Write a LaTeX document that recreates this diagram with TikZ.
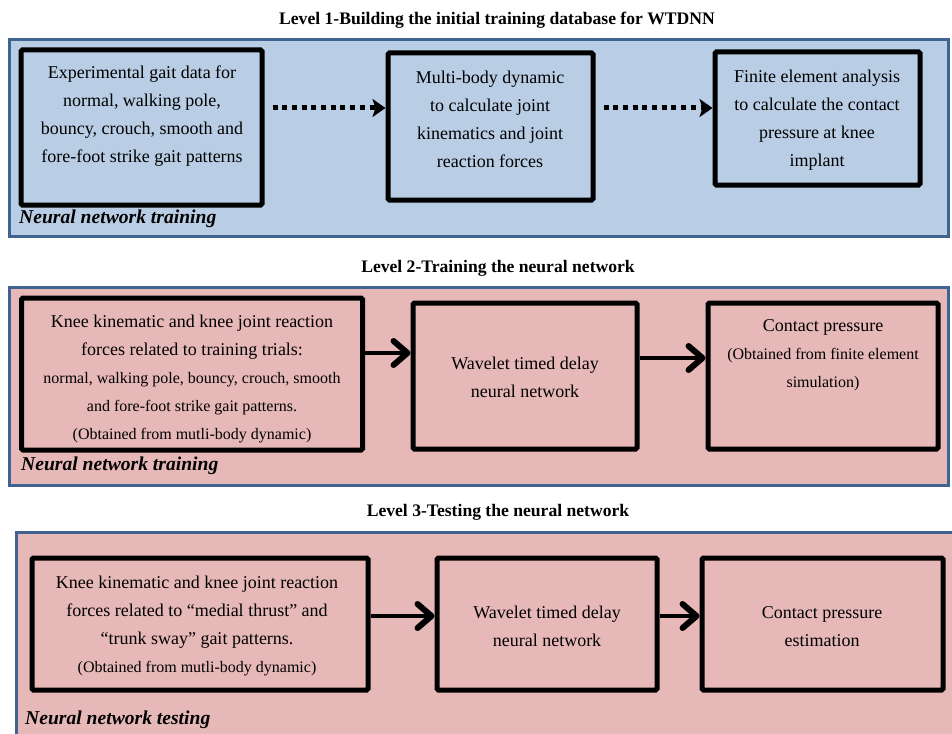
\documentclass[tikz,border=0pt]{standalone}
\usepackage{fontspec}
\setmainfont{Liberation Serif}
\usetikzlibrary{arrows.meta}
\definecolor{panelblue}{HTML}{B9CDE5}
\definecolor{panelpink}{HTML}{E6B8B7}
\definecolor{panelline}{HTML}{3F6491}
\newcommand{\smalltxt}{\fontsize{16}{28}\selectfont}
\tikzset{
  panel/.style={draw=panelline, line width=3pt},
  box/.style={draw=black, line width=5pt, rounded corners=1.5pt},
  txt/.style={align=center, font=\fontsize{18}{28}\selectfont, inner sep=0pt},
  title/.style={font=\fontsize{17.6}{20}\selectfont\bfseries, inner sep=0pt},
  tag/.style={font=\fontsize{19.6}{22}\selectfont\bfseries\itshape, inner sep=0pt, anchor=west},
  dotarrow/.style={line width=5pt, dash pattern=on 5pt off 4.7pt, -{Stealth[length=13pt,width=18pt,inset=3pt]}, shorten <=8pt},
  solidarrow/.style={line width=4.5pt, -{Straight Barb[length=14pt,width=24pt,line width=6pt,round]}}
}
\begin{document}
\begin{tikzpicture}[x=1pt,y=-1pt]
\clip (0,0) rectangle (952,733);
\fill[white] (0,0) rectangle (952,733);

% ---------- Level 1 ----------
\node[title] (t1) at (497,20) {Level 1-Building the initial training database for WTDNN};
\draw[panel, fill=panelblue] (9,40) rectangle (948,236);
\node[box, minimum width=241pt, minimum height=155pt] (a1) at (141.5,127.5) {};
\node[box, minimum width=205pt, minimum height=147pt] (b1) at (490.5,126.5) {};
\node[box, minimum width=205pt, minimum height=133pt] (c1) at (817.5,118.5) {};
\node[txt] (ta1) at (142,116) {Experimental gait data for\\normal, walking pole,\\bouncy, crouch, smooth and\\fore-foot strike gait patterns};
\node[txt] (tb1) at (490,119) {Multi-body dynamic\\to calculate joint\\kinematics and joint\\reaction forces};
\node[txt] (tc1) at (817,120) {Finite element analysis\\to calculate the contact\\pressure at knee\\implant};
\draw[dotarrow] (a1.east |- 0,108) -- (b1.west |- 0,108);
\draw[dotarrow] (b1.east |- 0,108) -- (c1.west |- 0,108);
\node[tag] (l1) at (19,219) {Neural network training};

% ---------- Level 2 ----------
\node[title] (t2) at (498,268) {Level 2-Training the neural network};
\draw[panel, fill=panelpink] (9,287) rectangle (948,485);
\node[box, minimum width=341pt, minimum height=152pt] (a2) at (192,374) {};
\node[box, minimum width=224pt, minimum height=146pt] (b2) at (525,376) {};
\node[box, minimum width=230pt, minimum height=146pt] (c2) at (823,376) {};
\node[txt] (ta2) at (192,379) {Knee kinematic and knee joint reaction\\forces related to training trials:\\{\smalltxt normal, walking pole, bouncy, crouch, smooth}\\{\smalltxt and fore-foot strike gait patterns.}\\{\smalltxt (Obtained from mutli-body dynamic)}};
\node[txt] (tb2) at (525,377) {Wavelet timed delay\\neural network};
\node[txt] (tc2) at (823,355) {Contact pressure\\{\smalltxt (Obtained from finite element}\\{\smalltxt simulation)}};
\draw[solidarrow] (a2.east |- 0,353) -- (b2.west |- 0,353);
\draw[solidarrow] (b2.east |- 0,358) -- (c2.west |- 0,358);
\node[tag] (l2) at (21,466) {Neural network training};

% ---------- Level 3 ----------
\node[title] (t3) at (498,512) {Level 3-Testing the neural network};
\draw[panel, fill=panelpink] (16,532) rectangle (965,760);
\node[box, minimum width=336pt, minimum height=132pt] (a3) at (200,624) {};
\node[box, minimum width=220pt, minimum height=132pt] (b3) at (547,624) {};
\node[box, minimum width=241pt, minimum height=132pt] (c3) at (822.5,624) {};
\node[txt] (ta3) at (197,626) {Knee kinematic and knee joint reaction\\forces related to “medial thrust” and\\“trunk sway” gait patterns.\\{\smalltxt (Obtained from mutli-body dynamic)}};
\node[txt] (tb3) at (547,626) {Wavelet timed delay\\neural network};
\node[txt] (tc3) at (822,627) {Contact pressure\\estimation};
\draw[solidarrow] (a3.east |- 0,616) -- (b3.west |- 0,616);
\draw[solidarrow] (b3.east |- 0,616) -- (c3.west |- 0,616);
\node[tag] (l3) at (25,720) {Neural network testing};
\end{tikzpicture}
\end{document}
